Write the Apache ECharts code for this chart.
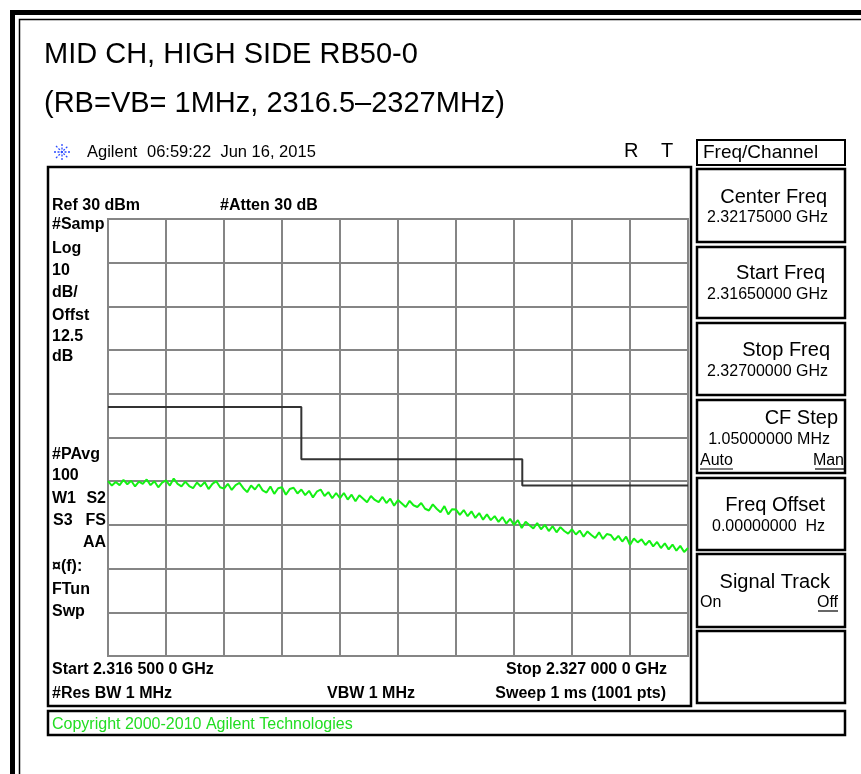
<!DOCTYPE html>
<html><head><meta charset="utf-8">
<script src="https://cdn.jsdelivr.net/npm/echarts@6/dist/echarts.min.js"></script>
<style>html,body{margin:0;padding:0;background:#fff}#c{width:861px;height:774px}</style>
</head><body><div id="c"></div>
<script>
// ---- data ----
const freqStartMHz = 2316.5;
const freqStopMHz = 2327.0;
const freqDivMHz = 1.05;          // 10 divisions across the span
const traceStepMHz = 0.07;        // spacing of the traced points
const refLevelDbm = 30;
const bottomLevelDbm = -70;
const dbPerDiv = 10;
const traceDbm = [
  -30.0, -31.0, -30.2, -30.9, -29.7, -30.7, -29.9, -31.2, -30.1, -30.6,
  -29.6, -30.9, -30.0, -31.4, -30.3, -29.8, -31.0, -29.4, -30.6, -31.2,
  -30.1, -31.1, -31.6, -30.3, -31.2, -30.2, -31.8, -30.6, -30.0, -31.4,
  -31.7, -30.6, -32.0, -30.9, -30.4, -31.6, -32.5, -31.0, -31.9, -30.7,
  -32.1, -32.6, -31.2, -32.9, -31.6, -31.4, -33.1, -31.8, -31.5, -32.8,
  -31.9, -33.2, -32.2, -33.7, -32.4, -31.9, -33.4, -32.5, -33.9, -32.7,
  -33.9, -32.7, -34.2, -33.1, -34.6, -33.2, -34.0, -34.8, -33.4, -34.3,
  -34.8, -33.6, -35.0, -34.0, -35.6, -34.3, -35.1, -35.9, -34.5, -35.5,
  -35.9, -35.0, -36.3, -36.7, -35.3, -36.3, -37.1, -35.7, -37.6, -36.4,
  -36.5, -37.7, -36.6, -38.0, -36.9, -38.4, -37.3, -38.8, -37.6, -38.9,
  -38.0, -39.3, -38.2, -39.7, -38.6, -40.0, -38.9, -40.7, -39.3, -40.1,
  -40.8, -39.6, -41.0, -40.0, -41.4, -40.3, -41.7, -40.5, -41.4, -42.0,
  -41.0, -42.2, -41.3, -42.7, -41.5, -42.3, -43.0, -41.7, -43.2, -42.1,
  -42.3, -43.5, -42.5, -43.8, -42.7, -44.6, -43.1, -44.0, -43.3, -44.6,
  -43.6, -44.9, -43.9, -45.3, -44.2, -45.6, -44.5, -45.9, -44.8, -46.2, -45.3
];
const limitFreqMHz = [2316.5, 2320.0, 2320.0, 2324.0, 2324.0, 2327.0];
const limitDbm     = [-13, -13, -25, -25, -31, -31];

const FONT = '"Liberation Sans", Arial, sans-serif';
function T(text, x, y, size, opt) {
  opt = opt || {};
  return {
    type: 'text', x: x, y: y, z: 100,
    style: {
      text: text,
      font: (opt.bold ? 'bold ' : '') + size + 'px ' + FONT,
      fill: opt.fill || '#000',
      textAlign: opt.align || 'left',
      textVerticalAlign: 'middle'
    }
  };
}
function R(x, y, w, h, lw) {
  return { type: 'rect', z: 90, shape: { x: x, y: y, width: w, height: h },
    style: { fill: 'none', stroke: '#000', lineWidth: lw } };
}
function L(x1, y1, x2, y2, lw, color, dash) {
  return { type: 'line', z: 95, shape: { x1: x1, y1: y1, x2: x2, y2: y2 },
    style: { stroke: color || '#000', lineWidth: lw, lineDash: dash || null } };
}

const traceData = traceDbm.map((v, i) => [freqStartMHz + i * traceStepMHz, v]);
const limitData = limitFreqMHz.map((f, i) => [f, limitDbm[i]]);

const g = [];
// outer frame
g.push(R(12.5, 12.5, 900, 800, 5));
g.push(R(19.5, 19.5, 890, 800, 1.5));
// title
g.push(T('MID CH, HIGH SIDE RB50-0', 44, 55, 29));
g.push(T('(RB=VB= 1MHz, 2316.5\u20132327MHz)', 44, 104, 29));
// agilent header
const sx = 62, sy = 152, sr = 8;
g.push(L(sx - sr, sy, sx + sr, sy, 1.3, '#2a4bff', [2, 1.5]));
g.push(L(sx, sy - sr, sx, sy + sr, 1.3, '#2a4bff', [2, 1.5]));
g.push(L(sx - 6, sy - 6, sx + 6, sy + 6, 1.3, '#2a4bff', [2, 1.5]));
g.push(L(sx - 6, sy + 6, sx + 6, sy - 6, 1.3, '#2a4bff', [2, 1.5]));
g.push(T('Agilent', 87, 152, 16.5));
g.push(T('06:59:22  Jun 16, 2015', 147, 152, 16.5));
g.push(T('R', 624, 151, 20));
g.push(T('T', 661, 151, 20));
// screen box
g.push(R(48, 167, 643, 539, 2.5));
g.push(T('Ref 30 dBm', 52, 206, 16, { bold: true }));
g.push(T('#Atten 30 dB', 220, 206, 16, { bold: true }));
const leftLabels = [
  ['#Samp', 225], ['Log', 249], ['10', 271], ['dB/', 293], ['Offst', 316],
  ['12.5', 337], ['dB', 357], ['#PAvg', 455], ['100', 476]
];
leftLabels.forEach(l => g.push(T(l[0], 52, l[1], 16, { bold: true })));
g.push(T('W1', 52, 499, 16, { bold: true }));
g.push(T('S2', 106, 499, 16, { bold: true, align: 'right' }));
g.push(T('S3', 53, 521, 16, { bold: true }));
g.push(T('FS', 106, 521, 16, { bold: true, align: 'right' }));
g.push(T('AA', 106, 543, 16, { bold: true, align: 'right' }));
g.push(T('\u00a4(f):', 52, 567, 16, { bold: true }));
g.push(T('FTun', 52, 590, 16, { bold: true }));
g.push(T('Swp', 52, 612, 16, { bold: true }));
g.push(T('Start 2.316 500 0 GHz', 52, 670, 16, { bold: true }));
g.push(T('Stop 2.327 000 0 GHz', 667, 670, 16, { bold: true, align: 'right' }));
g.push(T('#Res BW 1 MHz', 52, 694, 16, { bold: true }));
g.push(T('VBW 1 MHz', 327, 694, 16, { bold: true }));
g.push(T('Sweep 1 ms (1001 pts)', 666, 694, 16, { bold: true, align: 'right' }));
// copyright box
g.push(R(48, 711, 797, 24, 2.5));
g.push(T('Copyright 2000-2010 Agilent Technologies', 52, 725, 16, { fill: '#22dd22' }));
// right panel
g.push(R(697, 140, 148, 25, 2));
g.push(T('Freq/Channel', 703, 153, 19));
const keys = [[169, 73], [247, 71], [323, 72], [400, 73], [478, 72], [554, 73], [631, 72]];
keys.forEach(k => g.push(R(697, k[0], 148, k[1], 2.5)));
g.push(T('Center Freq', 827, 197, 20, { align: 'right' }));
g.push(T('2.32175000 GHz', 707, 218, 16));
g.push(T('Start Freq', 825, 273, 20, { align: 'right' }));
g.push(T('2.31650000 GHz', 707, 295, 16));
g.push(T('Stop Freq', 830, 350, 20, { align: 'right' }));
g.push(T('2.32700000 GHz', 707, 372, 16));
g.push(T('CF Step', 838, 418, 20, { align: 'right' }));
g.push(T('1.05000000 MHz', 830, 440, 16, { align: 'right' }));
g.push(T('Auto', 700, 461, 16));
g.push(T('Man', 844, 461, 16, { align: 'right' }));
g.push(L(700, 469, 733, 469, 1.2));
g.push(L(815, 469, 844, 469, 1.2));
g.push(T('Freq Offset', 825, 505, 20, { align: 'right' }));
g.push(T('0.00000000  Hz', 712, 527, 16));
g.push(T('Signal Track', 830, 582, 20, { align: 'right' }));
g.push(T('On', 700, 603, 16));
g.push(T('Off', 838, 603, 16, { align: 'right' }));
g.push(L(818, 611, 838, 611, 1.2));

const chart = echarts.init(document.getElementById('c'), null, { renderer: 'canvas' });
chart.setOption({
  animation: false,
  backgroundColor: '#fff',
  grid: { left: 108, top: 219, width: 580, height: 437, show: true,
    borderColor: '#858585', borderWidth: 2, backgroundColor: 'transparent' },
  xAxis: {
    type: 'value', min: freqStartMHz, max: freqStopMHz, interval: freqDivMHz,
    axisLabel: { show: false }, axisTick: { show: false }, axisLine: { show: false },
    splitLine: { show: true, lineStyle: { color: '#858585', width: 2 } }
  },
  yAxis: {
    type: 'value', min: bottomLevelDbm, max: refLevelDbm, interval: dbPerDiv,
    axisLabel: { show: false }, axisTick: { show: false }, axisLine: { show: false },
    splitLine: { show: true, lineStyle: { color: '#858585', width: 2 } }
  },
  series: [
    { type: 'line', data: limitData, showSymbol: false, z: 3,
      lineStyle: { color: '#333333', width: 2 } },
    { type: 'line', data: traceData, showSymbol: false, z: 4,
      lineStyle: { color: '#14f014', width: 2 } }
  ],
  graphic: { elements: g }
});
</script></body></html>
